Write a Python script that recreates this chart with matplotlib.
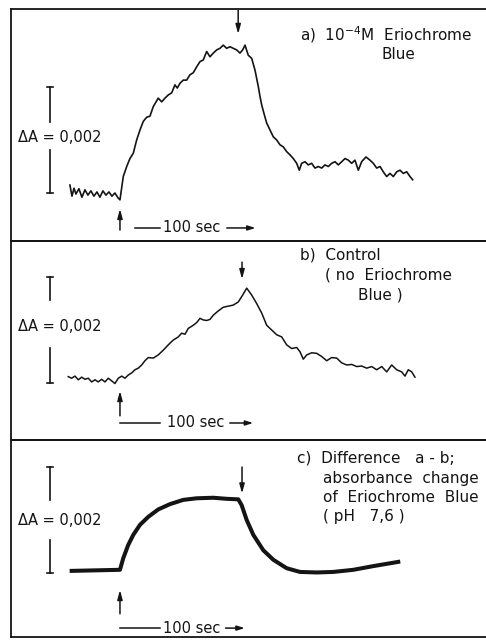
import matplotlib
matplotlib.use("Agg")
import matplotlib.pyplot as plt

plt.rcParams['font.family'] = ['DejaVu Sans']

# time in sec (light on at 0), absorbance change in units of 10^-3
t_a = [-41.7, -40.0, -38.3, -36.7, -34.2, -31.7, -29.2, -26.7, -24.2, -21.7,
       -19.2, -16.7, -14.2, -11.7, -9.2, -6.7, -4.2, -1.7, 0.0,
       2.75, 5.6, 8.3, 11.1, 13.9, 16.7, 19.4, 22.25, 25.0, 27.75,
       31.9, 34.75, 37.5, 40.25, 43.1, 45.8, 47.75, 50.0, 52.75, 55.6,
       58.3, 61.1, 63.9, 66.7, 69.4, 72.25, 75.0, 77.75, 80.6, 83.3,
       86.1, 88.9, 91.7, 94.4, 97.25, 100.0, 102.25, 104.2, 106.9,
       109.75, 112.5, 115.25, 116.7, 118.1, 120.0, 122.25, 125.0, 127.75,
       130.6, 133.3, 136.1, 138.9, 141.7, 144.4, 147.25, 149.4, 151.4,
       154.2, 156.9, 159.75, 162.5, 165.25, 168.1, 170.8, 173.6, 176.4,
       179.2, 181.9, 184.75, 187.5, 190.25, 193.1, 195.8, 198.6, 201.4,
       205.0, 208.3, 211.1, 213.9, 216.7, 219.4, 222.25, 225.0, 227.75,
       230.6, 233.3, 236.1, 238.9, 241.7, 243.9]
dA_a = [0.15, -0.06, 0.09, -0.02, 0.08, -0.08, 0.06, -0.04, 0.04, -0.06,
        0.02, -0.08, 0.04, -0.04, 0.02, -0.06, 0.0, -0.09, -0.13,
        0.31, 0.50, 0.65, 0.75, 1.00, 1.19, 1.35, 1.43, 1.45, 1.63,
        1.79, 1.72, 1.79, 1.85, 1.89, 2.04, 1.98, 2.07, 2.13, 2.13,
        2.23, 2.27, 2.38, 2.48, 2.51, 2.67, 2.57, 2.64, 2.70, 2.73,
        2.79, 2.73, 2.76, 2.73, 2.70, 2.64, 2.70, 2.79, 2.60,
        2.54, 2.32, 2.01, 1.82, 1.66, 1.50, 1.32, 1.19, 1.06,
        1.00, 0.91, 0.87, 0.78, 0.72, 0.65, 0.56, 0.43, 0.56,
        0.59, 0.53, 0.56, 0.47, 0.50, 0.47, 0.53, 0.50, 0.56,
        0.59, 0.53, 0.59, 0.65, 0.62, 0.56, 0.62, 0.43, 0.59,
        0.68, 0.62, 0.56, 0.47, 0.50, 0.40, 0.31, 0.37, 0.31,
        0.40, 0.43, 0.37, 0.40, 0.31, 0.25]

t_b = [-43.1, -40.25, -37.5, -34.75, -31.9, -29.2, -26.4, -23.6, -20.8, -18.1,
       -15.25, -12.5, -9.75, -6.9, -4.2, -1.4, 1.4, 4.2, 6.9, 9.75,
       12.5, 15.25, 18.1, 20.8, 23.6, 27.75, 31.9, 36.1, 40.25, 44.4,
       48.6, 51.4, 54.2, 56.9, 61.1, 63.9, 66.7, 69.4, 72.25, 75.0,
       77.75, 81.9, 86.1, 90.25, 94.4, 98.6, 102.25, 105.6, 109.75, 113.9,
       118.1, 122.25, 126.4, 130.6, 134.75, 138.9, 143.1, 147.25, 150.0, 152.75,
       155.6, 159.75, 163.9, 168.1, 172.25, 176.4, 180.6, 184.75, 188.9, 193.1,
       197.25, 201.4, 205.6, 209.75, 213.9, 218.1, 222.25, 226.4, 230.6, 234.75,
       237.5, 240.25, 243.1, 245.8]
dA_b = [0.12, 0.09, 0.13, 0.06, 0.11, 0.07, 0.09, 0.02, 0.06, 0.02,
        0.07, 0.02, 0.09, 0.04, -0.01, 0.09, 0.13, 0.09, 0.15, 0.19,
        0.25, 0.28, 0.34, 0.42, 0.48, 0.47, 0.53, 0.62, 0.72, 0.81,
        0.87, 0.94, 0.92, 1.03, 1.09, 1.14, 1.22, 1.19, 1.18, 1.20,
        1.28, 1.36, 1.43, 1.45, 1.47, 1.53, 1.66, 1.79, 1.66, 1.50,
        1.32, 1.09, 1.00, 0.91, 0.87, 0.72, 0.65, 0.67, 0.59, 0.45,
        0.53, 0.57, 0.56, 0.50, 0.42, 0.48, 0.47, 0.38, 0.34, 0.35,
        0.31, 0.32, 0.28, 0.31, 0.25, 0.31, 0.21, 0.34, 0.25, 0.21,
        0.13, 0.25, 0.21, 0.11]

t_c = [-40.25, 0.0, 2.75, 6.9, 11.1, 16.7, 23.6, 31.9, 41.7, 52.75,
       63.9, 77.75, 88.9, 98.6, 101.4, 105.6, 111.1, 119.4, 127.75, 138.9,
       150.0, 163.9, 177.75, 194.4, 211.1, 231.9]
dA_c = [0.04, 0.06, 0.28, 0.53, 0.72, 0.91, 1.06, 1.20, 1.30, 1.38,
        1.41, 1.42, 1.40, 1.39, 1.28, 1.00, 0.72, 0.43, 0.25, 0.09,
        0.02, 0.01, 0.02, 0.06, 0.13, 0.21]

light_off = [98.5, 101.7, 101.7]
scale_dA = 2.0          # 0.002 absorbance
time_bar = 100          # sec

ink = "#141414"
fs = 11
fig = plt.figure(figsize=(4.86, 6.4), dpi=100)
W, H = 486.0, 640.0

# panel boxes in pixels: (top, bottom), plus y-limits
panels = [
    dict(top=9, bottom=241, ylim=(-0.906, 3.472), t=t_a, dA=dA_a, lw=1.2,
         gap=(0.81, 1.34), lab_v=1.04, up=(-0.70, -0.30), down=(3.45, 3.00),
         bar_v=-0.66, bar_t=(12.5, 33.5), txt_t=35.5, arr_t=(89.0, 113.0),
         title=[(150, 2.98, "a)  10$^{-4}$M  Eriochrome"), (218.3, 2.62, "Blue")]),
    dict(top=241, bottom=440, ylim=(-1.076, 2.68), t=t_b, dA=dA_b, lw=1.1,
         gap=(0.66, 1.57), lab_v=1.06, up=(-0.62, -0.15), down=(2.28, 1.96),
         bar_v=-0.755, bar_t=(0.0, 33.5), txt_t=39.0, arr_t=(91.5, 111.0),
         title=[(150, 2.42, "b)  Control"), (170.8, 2.04, "( no  Eriochrome"),
                (198.3, 1.66, "Blue )")]),
    dict(top=440, bottom=637, ylim=(-1.208, 2.51), t=t_c, dA=dA_c, lw=2.9,
         gap=(0.62, 1.38), lab_v=1.0, up=(-0.77, -0.32), down=(2.0, 1.50),
         bar_v=-1.04, bar_t=(0.0, 33.5), txt_t=36.0, arr_t=(88.0, 104.0),
         title=[(147.5, 2.17, "c)  Difference   a - b;"),
                (169.2, 1.79, "absorbance  change"),
                (169.2, 1.43, "of  Eriochrome  Blue"),
                (169.2, 1.06, "( pH   7,6 )")]),
]

for i, p in enumerate(panels):
    ax = fig.add_axes([11 / W, 1 - p["bottom"] / H, (W - 11) / W,
                       (p["bottom"] - p["top"]) / H])
    ax.set_xlim(-90.8, 305)
    ax.set_ylim(*p["ylim"])
    ax.set_xticks([])
    ax.set_yticks([])
    ax.patch.set_alpha(0)
    for side in ["left", "top", "bottom"]:
        ax.spines[side].set_linewidth(1.3)
        ax.spines[side].set_color(ink)
    ax.spines["right"].set_visible(False)

    # trace
    ax.plot(p["t"], p["dA"], color=ink, lw=p["lw"], solid_joinstyle="round")

    # absorbance scale bar
    xb = -58.3
    ax.plot([xb, xb], [0, p["gap"][0]], color=ink, lw=1.2)
    ax.plot([xb, xb], [p["gap"][1], scale_dA], color=ink, lw=1.2)
    ax.plot([xb - 2.5, xb + 2.5], [0, 0], color=ink, lw=1.2)
    ax.plot([xb - 2.5, xb + 2.5], [scale_dA, scale_dA], color=ink, lw=1.2)
    ax.text(-85, p["lab_v"], "ΔA = 0,002", fontsize=10.5, color=ink,
            va="center", ha="left")

    # light on / off arrows
    head = "-|>,head_length=0.55,head_width=0.15"
    ax.annotate("", xy=(0, p["up"][1]), xytext=(0, p["up"][0]),
                arrowprops=dict(arrowstyle=head, color=ink, lw=1.1,
                                shrinkA=0, shrinkB=0))
    ax.annotate("", xy=(light_off[i], p["down"][1]),
                xytext=(light_off[i], p["down"][0]),
                arrowprops=dict(arrowstyle=head, color=ink, lw=1.1,
                                shrinkA=0, shrinkB=0))

    # 100 sec time bar
    ax.plot(p["bar_t"], [p["bar_v"], p["bar_v"]], color=ink, lw=1.1)
    ax.text(p["txt_t"], p["bar_v"], f"{time_bar} sec", fontsize=10.5,
            color=ink, va="center", ha="left")
    ax.annotate("", xy=(p["arr_t"][1], p["bar_v"]),
                xytext=(p["arr_t"][0], p["bar_v"]),
                arrowprops=dict(arrowstyle="-|>,head_length=0.45,head_width=0.14",
                                color=ink, lw=1.1, shrinkA=0, shrinkB=0))

    for tx, ty, s in p["title"]:
        ax.text(tx, ty, s, fontsize=fs, color=ink, va="center", ha="left")

fig.savefig("out.png", dpi=100)
